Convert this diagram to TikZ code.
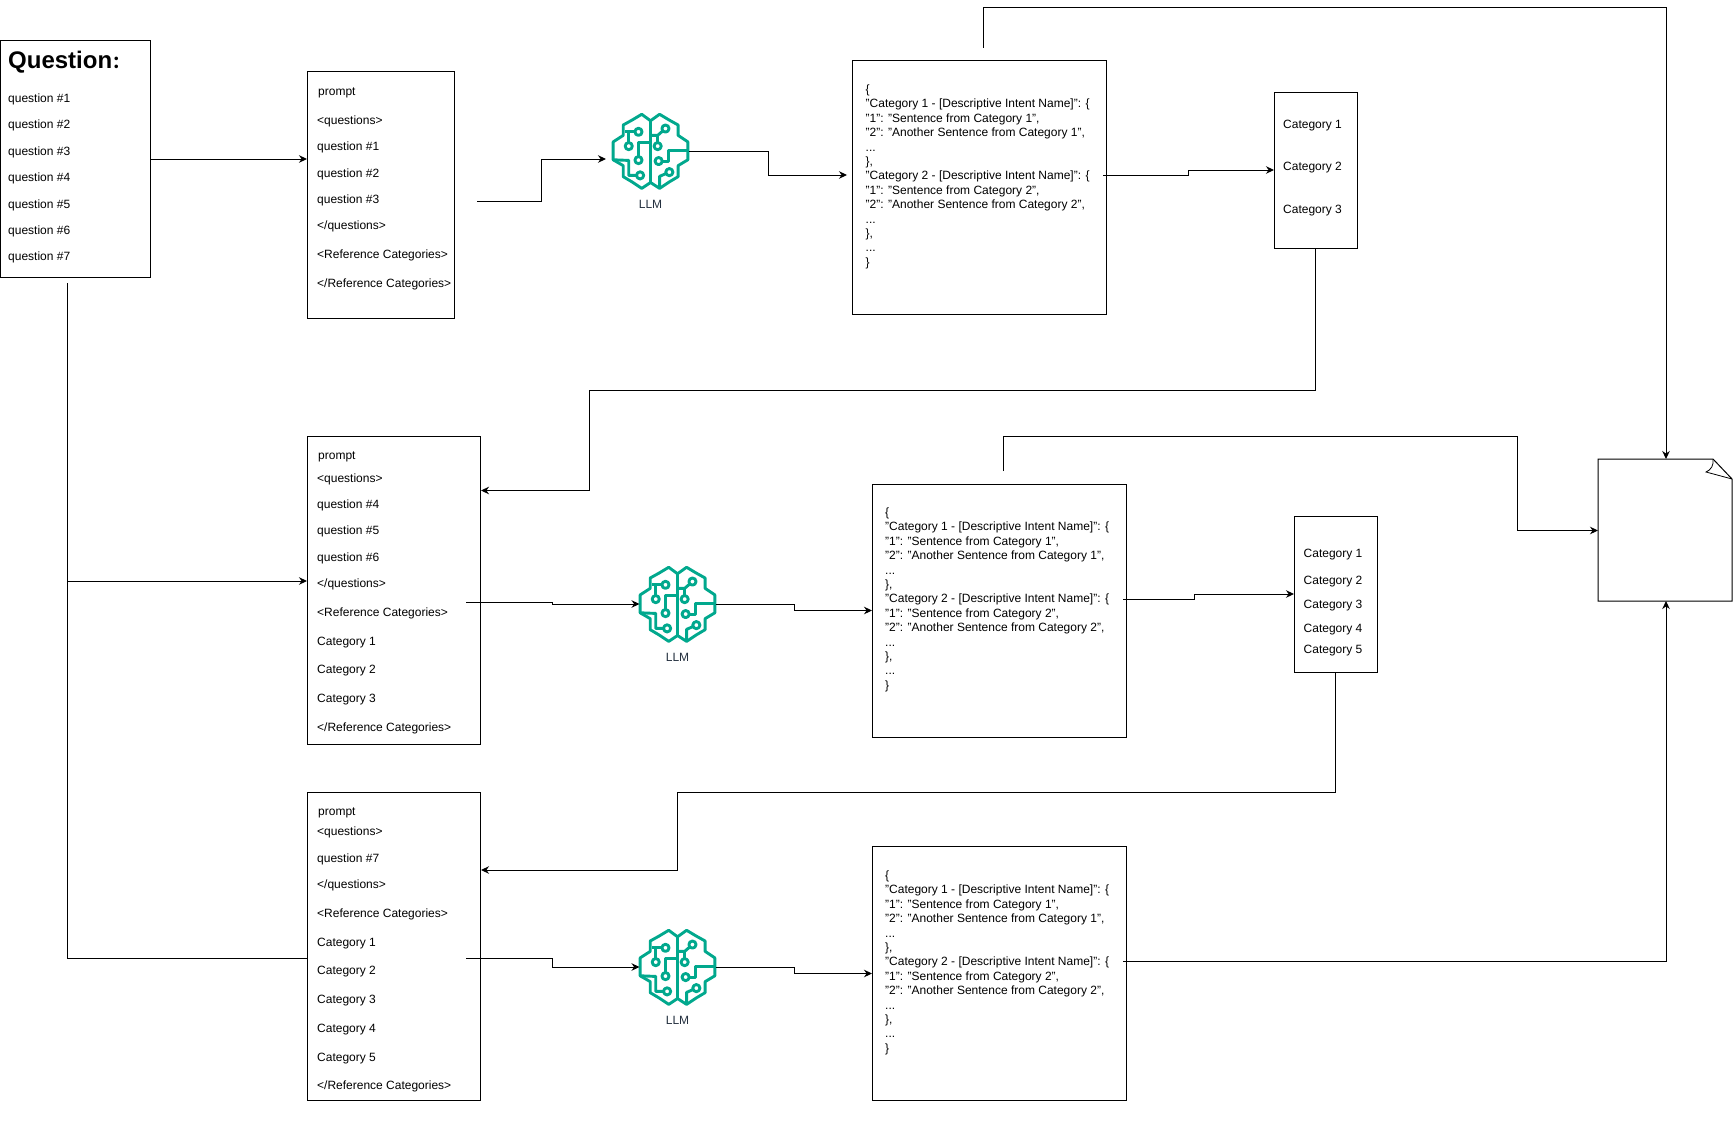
\documentclass[tikz,border=0pt]{standalone}
\usepackage{fontspec}
\setmainfont{Liberation Sans}
\newfontfamily\cjk{Noto Sans CJK SC}
\usepackage{xcolor}
\definecolor{BrainTeal}{HTML}{01A88D}
\definecolor{LabelInk}{HTML}{232F3E}
\usetikzlibrary{arrows.meta,calc}

\newcommand{\jsonshort}{\{\\"Category 1 - [Descriptive Intent Name]": \{\\"1": "Sentence from Category 1",\\"2": "Another Sentence from Category 1",\\...\\\},\\"Category 2 - [Descriptive Intent Name]": \{\\"1": "Sentence from Category 2",\\"2": "Another Sentence from Category 2",\\...\\\},\\...\\\}}

\tikzset{
  brain/.pic={
    \draw[brainline] (0,-93) -- (-27,-113) -- (-57,-95) -- (-84,-80) -- (-84,-48) -- (-115,-28) -- (-115,27) -- (-84,45) -- (-84,79) -- (-57,95) -- (-27,115) -- (0,97) -- (28,115) -- (58,95) -- (85,79) -- (85,45) -- (115,27) -- (115,-28) -- (85,-48) -- (85,-80) -- (58,-95) -- (28,-113) -- cycle;
    \draw[brainline] (0,-93) -- (0,97);
    \draw[brainline] (-37,-59) -- (-77,-59);
    \draw[brainline] (-67,-59) -- (-67,-15);
    \draw[brainline] (-37,28) -- (-37,-26) -- (0,-26);
    \draw[brainline] (-115,27) -- (-67,29) -- (-67,75) -- (-32,75);
    \draw[brainline] (46,-69) -- (22,-48) -- (0,-48);
    \draw[brainline] (22,-48) -- (22,-15);
    \draw[brainline] (25,31) -- (56,31) -- (56,-1) -- (115,-1);
    \draw[brainline] (58,65) -- (28,78) -- (28,112);
    \foreach \cx/\cy in {-37/-59,-67/-15,-37/28,-32/75,46/-69,22/-15,25/31,58/65}
      \draw[brainline,fill=white] (\cx,\cy) circle (11);
  }
}

\begin{document}
\begin{tikzpicture}[
  x=1pt,y=-1pt,
  brainline/.style={draw=BrainTeal,line width=2.9pt,line join=round},
  box/.style={draw=black,line width=1pt,fill=white,anchor=north west,outer sep=0pt,inner sep=0pt},
  linetext/.style={anchor=west,inner sep=0pt,yshift=-1.7pt,font=\fontsize{12}{14.4}\selectfont},
  jsontext/.style={anchor=north west,inner sep=0pt,yshift=-2.6pt,align=left,font=\fontsize{12}{14.4}\selectfont},
  brainbox/.style={minimum size=76pt,inner sep=0pt,outer sep=0pt},
  llmlabel/.style={inner sep=0pt,text=LabelInk,font=\fontsize{12}{14.4}\selectfont},
  arrow/.style={-{Stealth[length=8pt,width=7.5pt]},draw=black,line width=1pt},
  plainline/.style={draw=black,line width=1pt}
]
  \useasboundingbox (0,0) rectangle (1735,1148);

  \node[box,minimum width=150pt,minimum height=236pt] (questions) at (0,41) {};
  \node[box,minimum width=147pt,minimum height=246pt] (prompta) at (307,72) {};
  \node[box,minimum width=253.5pt,minimum height=254pt] (outa) at (852.5,60.5) {};
  \node[box,minimum width=83.5pt,minimum height=156pt] (cata) at (1274,92) {};
  \node[box,minimum width=173pt,minimum height=308pt] (promptb) at (307,436) {};
  \node[box,minimum width=254.5pt,minimum height=253pt] (outb) at (872,484) {};
  \node[box,minimum width=83.5pt,minimum height=156pt] (catb) at (1294,516) {};
  \node[box,minimum width=173pt,minimum height=308pt] (promptc) at (307,792) {};
  \node[box,minimum width=254.5pt,minimum height=254pt] (outc) at (872,846.5) {};
  \node[anchor=north west,inner sep=0pt,outer sep=0pt,minimum width=136pt,minimum height=142pt] (doc) at (1598,459) {};

  \draw[plainline] (doc.north west) -- (1713,459) -- (1732,479) -- (1732,601) -- (doc.south west) -- cycle;
  \draw[line width=0.8pt] (1713,459) .. controls (1714,465) and (1711,470) .. (1706,472) -- (1732,479);

  \node[anchor=west,inner sep=0pt,font=\fontsize{24}{28}\selectfont\bfseries] (questiontitle) at (8,62) {Question{\cjk\fontsize{17}{20}\selectfont ：}};
  \foreach \y/\t [count=\i] in {97.5/question \#1,124/question \#2,151/question \#3,177/question \#4,204/question \#5,230/question \#6,256/question \#7}
    \node[linetext] (qline\i) at (8,\y) {\t};

  \node[linetext] (promptaname) at (318,91) {prompt};
  \foreach \y/\t [count=\i] in {119.5/{<questions>},146/question \#1,173/question \#2,199/question \#3,225/{</questions>},254/{<Reference Categories>},283/{</Reference Categories>}}
    \node[linetext] (paline\i) at (317,\y) {\t};

  \node[linetext] (promptbname) at (318,455) {prompt};
  \foreach \y/\t [count=\i] in {478/{<questions>},504/question \#4,530/question \#5,557/question \#6,583/{</questions>},612/{<Reference Categories>},641/Category 1,669/Category 2,698/Category 3,727/{</Reference Categories>}}
    \node[linetext] (pbline\i) at (317,\y) {\t};

  \node[linetext] (promptcname) at (318,811) {prompt};
  \foreach \y/\t [count=\i] in {831/{<questions>},858/question \#7,884/{</questions>},913/{<Reference Categories>},942/Category 1,970/Category 2,999/Category 3,1028/Category 4,1057/Category 5,1085/{</Reference Categories>}}
    \node[linetext] (pcline\i) at (317,\y) {\t};

  \foreach \y/\t [count=\i] in {124/Category 1,166/Category 2,209/Category 3}
    \node[linetext] (caline\i) at (1283,\y) {\t};
  \foreach \y/\t [count=\i] in {553/Category 1,580/Category 2,604/Category 3,627.5/Category 4,649/Category 5}
    \node[linetext] (cbline\i) at (1303.5,\y) {\t};

  \node[jsontext] (jsona) at (865.5,82) {\jsonshort};
  \node[jsontext] (jsonb) at (885,505) {\jsonshort};
  \node[jsontext] (jsonc) at (885,868) {\jsonshort};

  \node[brainbox] (braina) at (650.5,151) {};
  \node[brainbox] (brainb) at (677.5,604) {};
  \node[brainbox] (brainc) at (677.5,967) {};
  \pic[scale=0.325] at (braina) {brain};
  \pic[scale=0.325] at (brainb) {brain};
  \pic[scale=0.325] at (brainc) {brain};
  \node[llmlabel] (llma) at (650.5,204) {LLM};
  \node[llmlabel] (llmb) at (677.5,657) {LLM};
  \node[llmlabel] (llmc) at (677.5,1020) {LLM};

  \coordinate (questionstail) at (67,283);
  \coordinate (trunkb) at (67,581);
  \coordinate (promptbleft) at (307,581);
  \coordinate (trunkc) at (67,958);
  \coordinate (promptcleft) at (307,958);
  \coordinate (promptatail) at (477,201);
  \coordinate (brainahead) at (606,159);
  \coordinate (outahead) at (847,175);
  \coordinate (outatail) at (1103,175);
  \coordinate (outatop) at (983.5,48);
  \coordinate (promptbhead) at (481,490.5);
  \coordinate (promptbtail) at (466,602);
  \coordinate (outbtail) at (1123,599);
  \coordinate (outbtop) at (1003.5,471);
  \coordinate (docleft) at (1598,530.5);
  \coordinate (promptchead) at (481,870);
  \coordinate (promptctail) at (466,958);
  \coordinate (outctail) at (1123,961);

  \draw[arrow] (questions.east) -- (questions.east -| prompta.west);
  \draw[plainline] (questionstail) -- (trunkc) -- (promptcleft);
  \draw[arrow] (trunkb) -- (promptbleft);

  \draw[arrow] (promptatail) -| (541,159) -- (brainahead);
  \draw[arrow] (braina.east) -| (768,175) -- (outahead);
  \draw[arrow] (outatail) -- (1188,175) |- (cata.west);
  \draw[arrow] (outatop) |- (1666,8) -- (doc.north);
  \draw[arrow] (cata.south) |- (589.5,390.5) -- (589.5,490.5) -- (promptbhead);

  \draw[arrow] (promptbtail) -- (552,602) |- (brainb.west);
  \draw[arrow] (brainb.east) -- (794,604) |- (outb.west);
  \draw[arrow] (outbtail) -- (1194,599) |- (catb.west);
  \draw[arrow] (outbtop) |- (1517,436) |- (docleft);
  \draw[arrow] (catb.south) |- (677,792) -- (677,870) -- (promptchead);

  \draw[arrow] (promptctail) -- (552,958) |- (brainc.west);
  \draw[arrow] (brainc.east) -- (794,967) |- (outc.west);
  \draw[arrow] (outctail) -| (doc.south);
\end{tikzpicture}
\end{document}
